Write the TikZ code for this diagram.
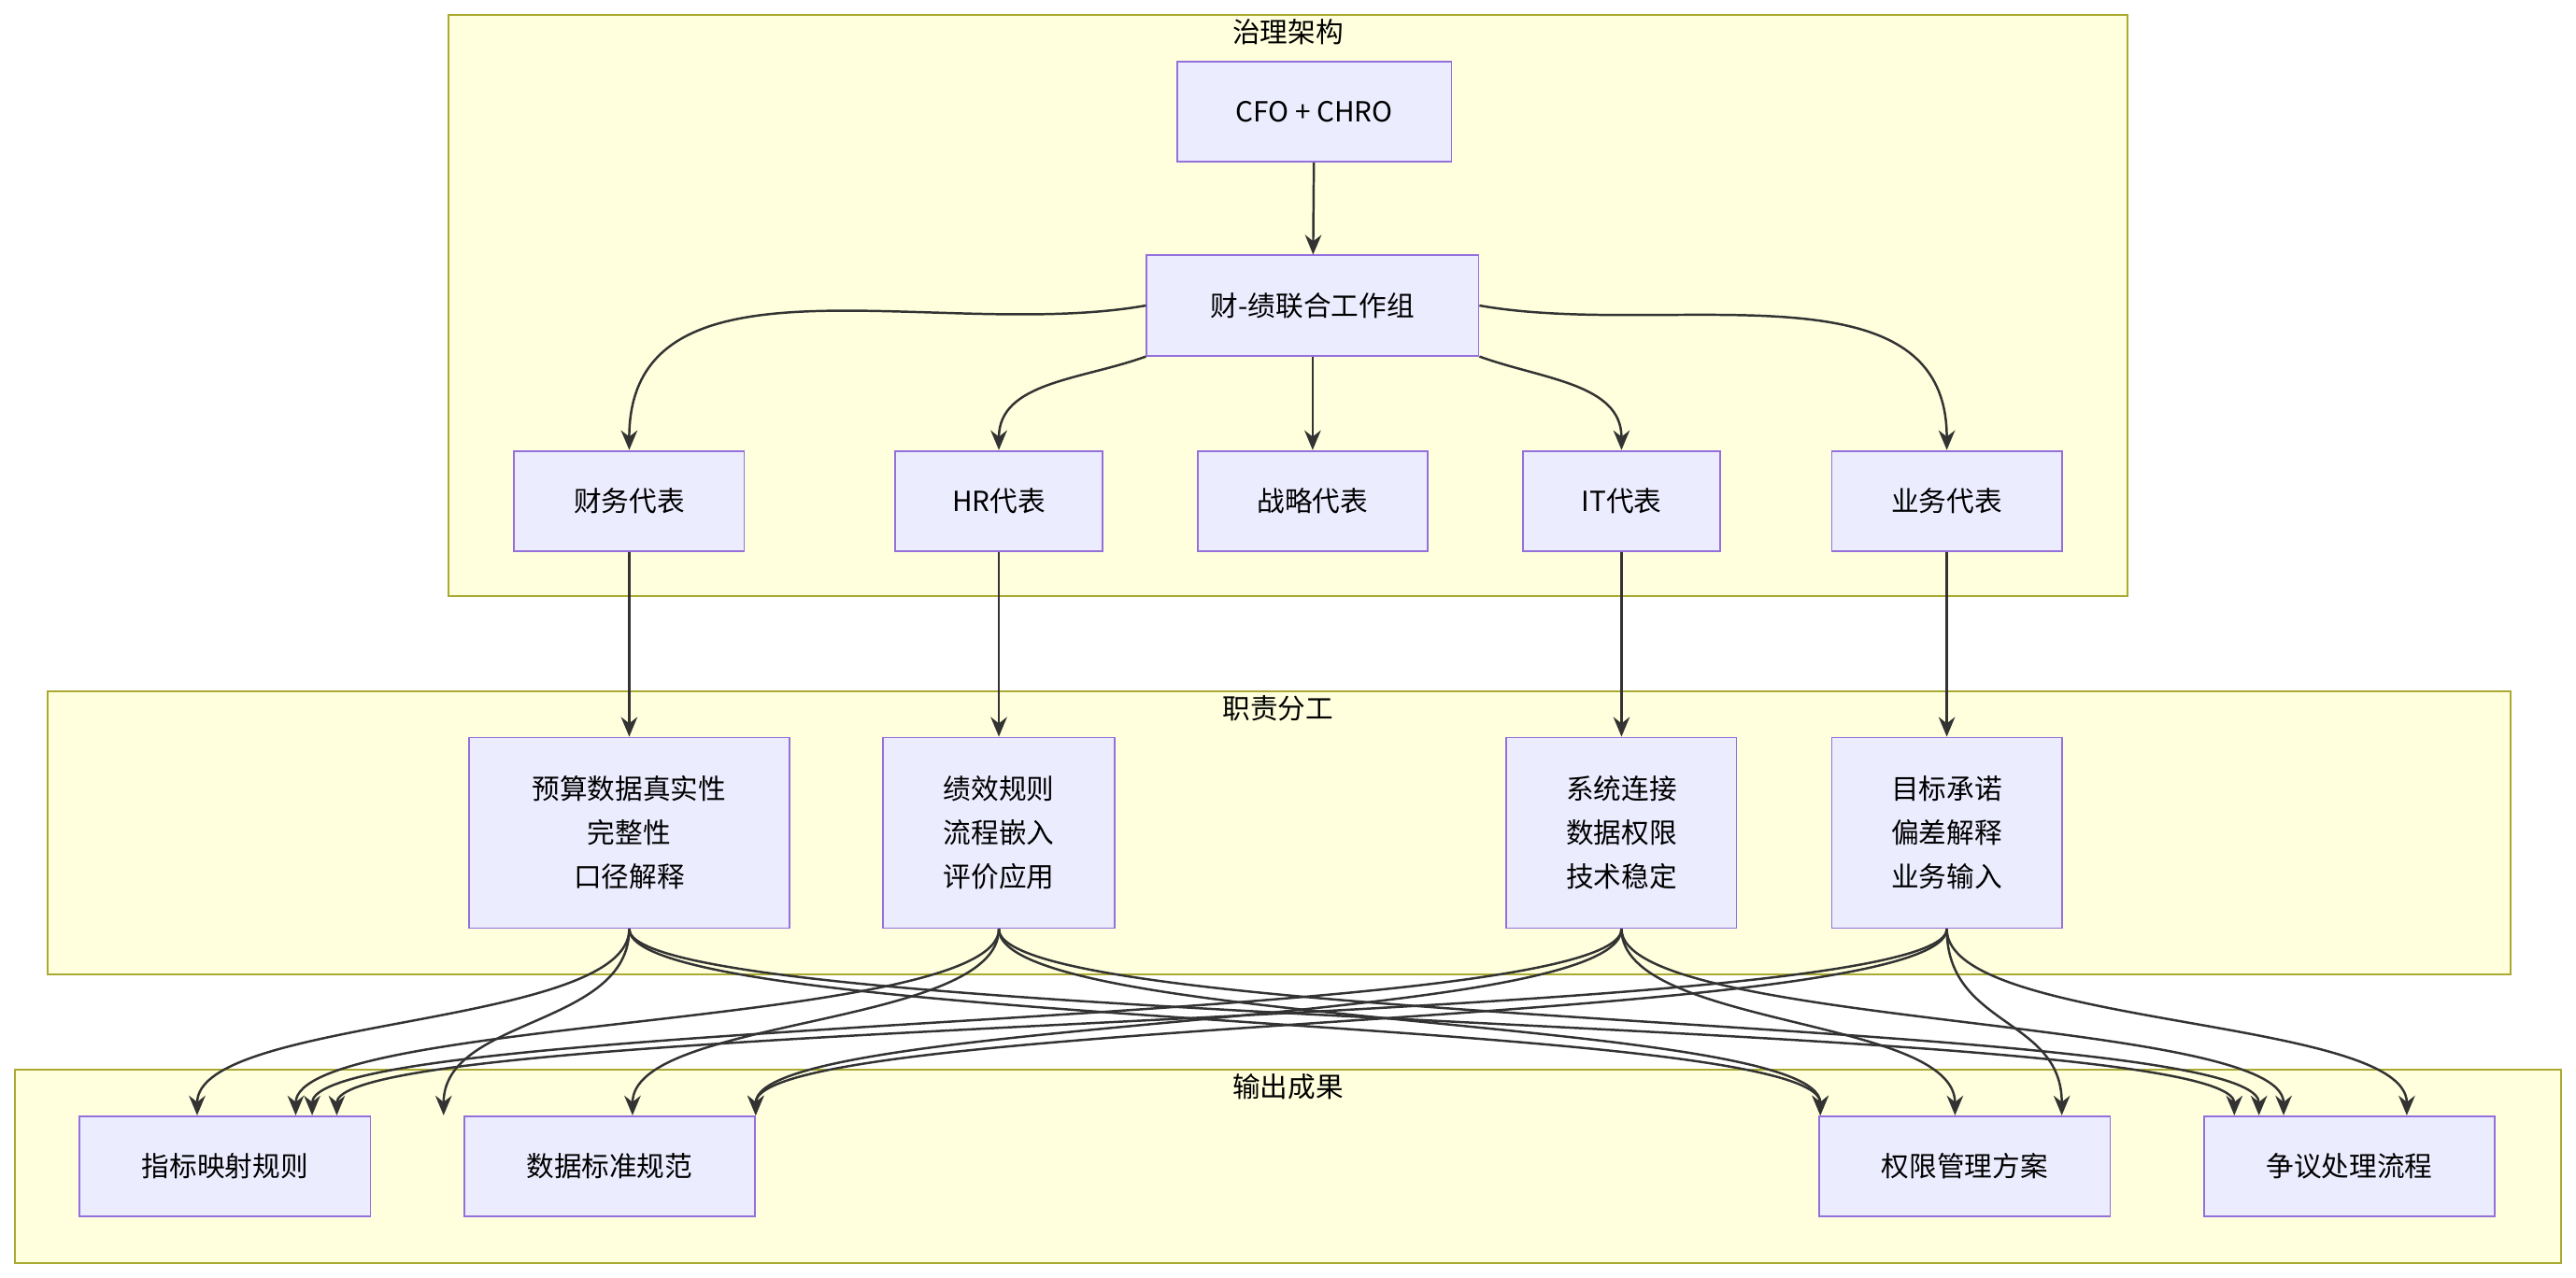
\documentclass[tikz,border=0pt]{standalone}
\usepackage{fontspec}
\setmainfont{Noto Sans CJK SC}
\usetikzlibrary{arrows.meta}
\definecolor{boxfill}{HTML}{ECECFF}
\definecolor{boxline}{HTML}{9370DB}
\definecolor{grpfill}{HTML}{FFFFDE}
\definecolor{grpline}{HTML}{AAAA33}
\definecolor{edgecol}{HTML}{333333}
\begin{document}
\begin{tikzpicture}[x=0.05cm,y=-0.05cm,
    box/.style={draw=boxline,fill=boxfill,line width=1.5pt,minimum height=3.05cm,
        align=center,font=\fontsize{24}{38}\selectfont},
    grp/.style={draw=grpline,fill=grpfill,line width=1.5pt},
    grplabel/.style={anchor=north,font=\fontsize{24}{30}\selectfont},
    edge/.style={draw=edgecol,line width=2pt,-{Stealth[length=0.6cm,width=0.5cm]}}]
    \useasboundingbox (0,0) rectangle (1568,778);
    % groups
    \draw[grp] (273,9) rectangle (1295,363);
    \node[grplabel] (g1) at (784,9) {治理架构};
    \draw[grp] (29,421) rectangle (1528,593);
    \node[grplabel] (g2) at (778,421) {职责分工};
    \draw[grp] (9,651) rectangle (1559,769);
    \node[grplabel] (g3) at (784,651) {输出成果};
    % governance
    \node[box,minimum width=8.35cm] (top) at (800,68) {CFO + CHRO};
    \node[box,minimum width=10.1cm] (wg) at (799,186) {财-绩联合工作组};
    \node[box,minimum width=7cm] (fin) at (383,305) {财务代表};
    \node[box,minimum width=6.3cm] (hr) at (608,305) {HR代表};
    \node[box,minimum width=7cm] (str) at (799,305) {战略代表};
    \node[box,minimum width=6cm] (it) at (987,305) {IT代表};
    \node[box,minimum width=7cm] (biz) at (1185,305) {业务代表};
    % duties
    \node[box,minimum width=9.75cm,minimum height=5.8cm] (dfin) at (383,507) {预算数据真实性\\完整性\\口径解释};
    \node[box,minimum width=7.05cm,minimum height=5.8cm] (dhr) at (608,507) {绩效规则\\流程嵌入\\评价应用};
    \node[box,minimum width=7cm,minimum height=5.8cm] (dit) at (987,507) {系统连接\\数据权限\\技术稳定};
    \node[box,minimum width=7cm,minimum height=5.8cm] (dbiz) at (1185,507) {目标承诺\\偏差解释\\业务输入};
    % outputs
    \node[box,minimum width=8.85cm] (map) at (137,710) {指标映射规则};
    \node[box,minimum width=8.85cm] (std) at (371,710) {数据标准规范};
    \node[box,minimum width=8.85cm] (auth) at (1196,710) {权限管理方案};
    \node[box,minimum width=8.85cm] (disp) at (1430,710) {争议处理流程};
    % arrival points on the outputs
    \foreach \o/\x in {map/120,std/270,auth/1108,disp/1360}
        \coordinate (\o-a) at (\x,679);
    \foreach \o/\x in {map/180,std/385,auth/1108,disp/1375}
        \coordinate (\o-b) at (\x,679);
    \foreach \o/\x in {map/190,std/460,auth/1190,disp/1390}
        \coordinate (\o-c) at (\x,679);
    \foreach \o/\x in {map/205,std/460,auth/1255,disp/1465}
        \coordinate (\o-d) at (\x,679);
    % edges
    \draw[edge] (top) -- (wg);
    \draw[edge] (wg.west) to[out=190,in=90] (fin.north);
    \draw[edge] (wg.south west) to[out=200,in=90] (hr.north);
    \draw[edge] (wg) -- (str);
    \draw[edge] (wg.south east) to[out=-20,in=90] (it.north);
    \draw[edge] (wg.east) to[out=-10,in=90] (biz.north);
    \foreach \a/\b in {fin/dfin,hr/dhr,it/dit,biz/dbiz}
        \draw[edge] (\a) -- (\b);
    \foreach \d/\s in {dfin/a,dhr/b,dit/c,dbiz/d}
        \foreach \o in {map,std,auth,disp}
            \draw[edge] (\d.south) .. controls +(0,60) and +(0,-60) .. (\o-\s);
\end{tikzpicture}
\end{document}
